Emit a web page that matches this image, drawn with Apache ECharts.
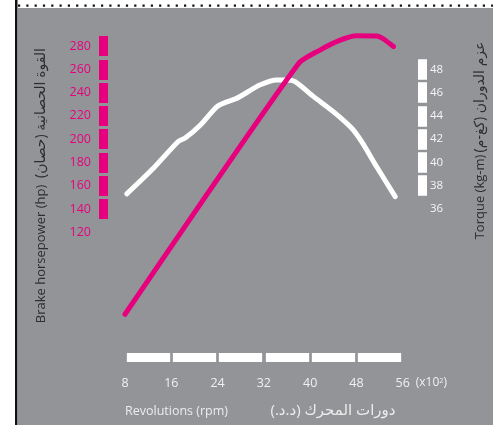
<!DOCTYPE html>
<html>
<head>
<meta charset="utf-8">
<script src="https://cdn.jsdelivr.net/npm/echarts@6/dist/echarts.min.js"></script>
<style>
html,body{margin:0;padding:0;background:#fff;}
#c{width:493px;height:425px;}
</style>
</head>
<body>
<div id="c"></div>
<script>
// ---- data ----
const rpmTickLabels = [8, 16, 24, 32, 40, 48, 56];
const rpmBarCenters = [12, 20, 28, 36, 44, 52];
const powerTickLabels = [120, 140, 160, 180, 200, 220, 240, 260, 280];
const powerBarValues = [140, 160, 180, 200, 220, 240, 260, 280];
const torqueTickLabels = [36, 38, 40, 42, 44, 46, 48];
const torqueBarValues = [38, 40, 42, 44, 46, 48];

const powerRpm = [8, 38, 41.7, 45.2, 48, 51.5, 52.7, 54.4];
const powerHp  = [49.6, 265, 276.5, 285, 288.8, 288.6, 286, 279.5];

const torqueRpm = [8.3, 12.9, 17.2, 18.4, 21, 23.9, 25.6, 27.3, 28.7, 31.3, 34.2, 36, 37.4, 40.6, 44, 47.2, 48.9, 51.5, 54.7];
const torqueKgm = [37.3, 39.5, 41.8, 42.1, 43.2, 44.8, 45.2, 45.5, 45.9, 46.65, 47.08, 47.08, 46.93, 45.65, 44.36, 42.93, 41.78, 39.63, 37.06];

const xTitleEn = 'Revolutions (rpm)';
const xTitleAr = 'دورات المحرك (د.د.)';
const yLeftEn = 'Brake horsepower (hp)';
const yLeftAr = 'القوة الحصانية (حصان)';
const yRightEn = 'Torque (kg-m)';
const yRightAr = 'عزم الدوران (كغ-م)';

// ---- chart ----
const PINK = '#e6007e';
const GRAY = '#939498';
const FONT = '"Open Sans", "DejaVu Sans", sans-serif';

const zip = (a, b) => a.map((v, i) => [v, b[i]]);

const chart = echarts.init(document.getElementById('c'), null, {renderer: 'canvas'});
chart.setOption({
  animation: false,
  backgroundColor: '#ffffff',
  textStyle: {fontFamily: FONT},
  grid: {left: 125, right: 90.3, top: 22.7, bottom: 53, containLabel: false},
  xAxis: {
    type: 'value', min: 8, max: 56, interval: 8,
    offset: -19,
    axisLine: {show: false},
    splitLine: {show: false},
    axisTick: {show: true, customValues: rpmBarCenters, length: 9, lineStyle: {color: '#ffffff', width: 43.3}},
    axisLabel: {customValues: rpmTickLabels, color: '#f0f0f0', fontSize: 12.5, margin: 24, fontFamily: FONT},
    name: '(x10{s|2})',
    nameLocation: 'end',
    nameGap: 3,
    nameTextStyle: {
      color: '#f0f0f0', fontSize: 12, fontFamily: FONT, align: 'left', verticalAlign: 'top',
      padding: [24, 0, 0, 0],
      rich: {s: {fontSize: 7.5, color: '#f0f0f0', verticalAlign: 'top', fontFamily: FONT}}
    }
  },
  yAxis: [
    {
      type: 'value', min: 0, max: 300, interval: 20, position: 'left', offset: 17,
      axisLine: {show: false}, splitLine: {show: false},
      axisTick: {show: true, customValues: powerBarValues, length: 9, lineStyle: {color: PINK, width: 20}},
      axisLabel: {customValues: powerTickLabels, color: PINK, fontSize: 12.5, margin: 17, padding: [0, 0, 8, 0], fontFamily: FONT}
    },
    {
      type: 'value', min: 22, max: 52, interval: 2, position: 'right', offset: 15.3,
      axisLine: {show: false}, splitLine: {show: false},
      axisTick: {show: true, customValues: torqueBarValues, length: 9, lineStyle: {color: '#ffffff', width: 20.5}},
      axisLabel: {customValues: torqueTickLabels, color: '#f4f4f4', fontSize: 11.5, margin: 12, padding: [0, 0, 8, 0], fontFamily: FONT}
    }
  ],
  series: [
    {
      name: 'Torque', type: 'line', yAxisIndex: 1, data: zip(torqueRpm, torqueKgm),
      showSymbol: false, smooth: 0.25, z: 3,
      lineStyle: {color: '#ffffff', width: 5, cap: 'round', join: 'round'}
    },
    {
      name: 'Power', type: 'line', yAxisIndex: 0, data: zip(powerRpm, powerHp),
      showSymbol: false, smooth: 0.2, z: 4,
      lineStyle: {color: PINK, width: 5, cap: 'round', join: 'round'}
    }
  ],
  graphic: {
    elements: [
      {type: 'rect', z: -10, silent: true, shape: {x: 18, y: 8, width: 475, height: 417}, style: {fill: GRAY}},
      {type: 'rect', z: -9, silent: true, shape: {x: 15, y: 0, width: 2.5, height: 425}, style: {fill: '#111111'}},
      {type: 'line', z: -9, silent: true, shape: {x1: 18, y1: 5.7, x2: 493, y2: 5.7}, style: {stroke: '#111111', lineWidth: 2.2, lineDash: [2.2, 6.1]}},
      {type: 'text', z: 5, silent: true, x: 125, y: 411, style: {text: xTitleEn, fill: '#ececec', fontSize: 12.5, fontFamily: FONT, align: 'left', verticalAlign: 'middle'}},
      {type: 'text', z: 5, silent: true, x: 333, y: 411, style: {text: xTitleAr, fill: '#ececec', fontSize: 15, fontFamily: FONT, align: 'center', verticalAlign: 'middle'}},
      {type: 'text', z: 5, silent: true, x: 41, y: 254, rotation: Math.PI / 2, style: {text: yLeftEn, fill: '#2e2e30', fontSize: 13, fontFamily: FONT, align: 'center', verticalAlign: 'middle'}},
      {type: 'text', z: 5, silent: true, x: 41, y: 113, rotation: Math.PI / 2, style: {text: yLeftAr, fill: '#2e2e30', fontSize: 14, fontFamily: FONT, align: 'center', verticalAlign: 'middle'}},
      {type: 'text', z: 5, silent: true, x: 480, y: 197, rotation: Math.PI / 2, style: {text: yRightEn, fill: '#2e2e30', fontSize: 13, fontFamily: FONT, align: 'center', verticalAlign: 'middle'}},
      {type: 'text', z: 5, silent: true, x: 480, y: 97, rotation: Math.PI / 2, style: {text: yRightAr, fill: '#2e2e30', fontSize: 14, fontFamily: FONT, align: 'center', verticalAlign: 'middle'}}
    ]
  }
});
</script>
</body>
</html>
